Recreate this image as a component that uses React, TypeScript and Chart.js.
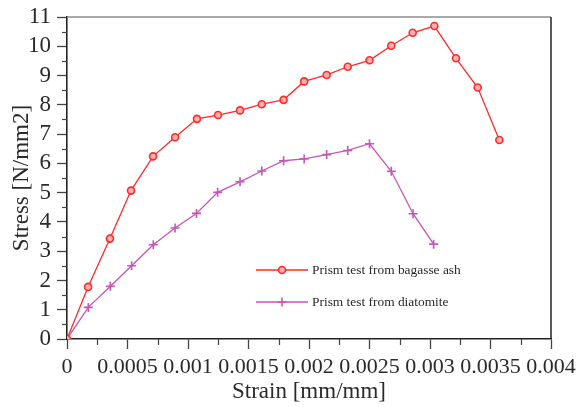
import React, { useEffect, useRef } from 'react';
import { Chart, registerables } from 'chart.js';

Chart.register(...registerables);

// ---- Data ----
const strainBagasse = [0, 0.000174, 0.000355, 0.000529, 0.000711, 0.000893, 0.001074, 0.001248, 0.00143, 0.00161, 0.00179, 0.00196, 0.002146, 0.00232, 0.0025, 0.00268, 0.002857, 0.003036, 0.003215, 0.003394, 0.003573];
const stressBagasse = [0, 1.78, 3.43, 5.07, 6.24, 6.89, 7.52, 7.65, 7.81, 8.02, 8.17, 8.8, 9.02, 9.3, 9.52, 10.02, 10.46, 10.69, 9.59, 8.59, 6.8];

const strainDiatomite = [0, 0.000176, 0.000358, 0.000534, 0.000713, 0.000893, 0.00107, 0.001245, 0.00143, 0.00161, 0.00179, 0.00196, 0.002146, 0.00232, 0.0025, 0.00268, 0.00286, 0.00303];
const stressDiatomite = [0, 1.08, 1.8, 2.5, 3.22, 3.79, 4.29, 5.01, 5.37, 5.74, 6.09, 6.15, 6.3, 6.44, 6.67, 5.73, 4.28, 3.24];

const seriesLabels = ['Prism test from bagasse ash', 'Prism test from diatomite'];
const xTickLabels = ['0', '0.0005', '0.001', '0.0015', '0.002', '0.0025', '0.003', '0.0035', '0.004'];
const yTickLabels = ['0', '1', '2', '3', '4', '5', '6', '7', '8', '9', '10', '11'];

const FONT = "'Liberation Serif', 'Times New Roman', serif";
const TEXT = '#2a2a2a';
const RED = '#ff2a2a';
const PURPLE = '#c455b8';

const framePlugin = {
  id: 'frame',
  afterDraw(chart: any) {
    const { ctx, chartArea: a, scales } = chart;
    ctx.save();
    ctx.lineWidth = 1.5;
    ctx.strokeStyle = '#8c8c8c';
    ctx.beginPath();
    ctx.moveTo(a.left, a.top);
    ctx.lineTo(a.right, a.top);
    ctx.stroke();
    ctx.strokeStyle = '#222';
    ctx.beginPath();
    ctx.moveTo(a.right, a.top);
    ctx.lineTo(a.right, a.bottom);
    ctx.stroke();
    // minor ticks
    ctx.lineWidth = 1.2;
    ctx.strokeStyle = '#444';
    const ys = scales.y;
    for (let i = 0; i < yTickLabels.length - 1; i++) {
      const p = Math.round(ys.getPixelForValue(i + 0.5)) + 0.5;
      ctx.beginPath();
      ctx.moveTo(a.left - 5, p);
      ctx.lineTo(a.left, p);
      ctx.stroke();
    }
    const xs = scales.x;
    for (let i = 0; i < xTickLabels.length - 1; i++) {
      const p = Math.round(xs.getPixelForValue(0.00025 + i * 0.0005)) + 0.5;
      ctx.beginPath();
      ctx.moveTo(p, a.bottom);
      ctx.lineTo(p, a.bottom + 6);
      ctx.stroke();
    }
    ctx.restore();
  },
};

const insideLegendPlugin = {
  id: 'insideLegend',
  afterDraw(chart: any, _args: any, opts: any) {
    const { ctx } = chart;
    ctx.save();
    chart.data.datasets.forEach((ds: any, i: number) => {
      const y = opts.y + i * opts.rowGap;
      const x0 = opts.x;
      const x1 = opts.x + opts.lineLength;
      const cx = (x0 + x1) / 2;
      ctx.strokeStyle = ds.borderColor;
      ctx.lineWidth = ds.borderWidth;
      ctx.beginPath();
      ctx.moveTo(x0, y);
      ctx.lineTo(x1, y);
      ctx.stroke();
      ctx.lineWidth = ds.pointBorderWidth;
      ctx.strokeStyle = ds.pointBorderColor;
      if (ds.pointStyle === 'circle') {
        ctx.fillStyle = ds.pointBackgroundColor;
        ctx.beginPath();
        ctx.arc(cx, y, ds.pointRadius, 0, Math.PI * 2);
        ctx.fill();
        ctx.stroke();
      } else {
        const r = ds.pointRadius;
        ctx.beginPath();
        ctx.moveTo(cx - r, y);
        ctx.lineTo(cx + r, y);
        ctx.moveTo(cx, y - r);
        ctx.lineTo(cx, y + r);
        ctx.stroke();
      }
      ctx.fillStyle = TEXT;
      ctx.font = `${opts.fontSize}px ${FONT}`;
      ctx.textBaseline = 'middle';
      ctx.textAlign = 'left';
      ctx.fillText(ds.label, x1 + 4, y);
    });
    ctx.restore();
  },
};

export default function App() {
  const ref = useRef<HTMLCanvasElement | null>(null);

  useEffect(() => {
    if (!ref.current) return;
    const chart = new Chart(ref.current, {
      type: 'line',
      data: {
        datasets: [
          {
            label: seriesLabels[0],
            data: strainBagasse.map((x, i) => ({ x, y: stressBagasse[i] })),
            borderColor: RED,
            borderWidth: 1.3,
            pointStyle: 'circle',
            pointRadius: 3.5,
            pointBorderWidth: 1.6,
            pointBorderColor: RED,
            pointBackgroundColor: '#ffb0b0',
            fill: false,
            tension: 0,
          },
          {
            label: seriesLabels[1],
            data: strainDiatomite.map((x, i) => ({ x, y: stressDiatomite[i] })),
            borderColor: PURPLE,
            borderWidth: 1.3,
            pointStyle: 'cross',
            pointRadius: 4.5,
            pointBorderWidth: 1.6,
            pointBorderColor: PURPLE,
            pointBackgroundColor: PURPLE,
            fill: false,
            tension: 0,
          },
        ],
      },
      options: {
        responsive: false,
        animation: false,
        devicePixelRatio: 1,
        layout: { padding: { top: 17, right: 26, left: 0, bottom: 0 } },
        plugins: {
          legend: { display: false },
          tooltip: { enabled: false },
          insideLegend: { x: 256, y: 270, rowGap: 32, lineLength: 52, fontSize: 13.4 },
        } as any,
        scales: {
          x: {
            type: 'linear',
            min: 0,
            max: 0.004,
            afterFit: (s: any) => { s.height = 68; s.paddingLeft = 0; s.paddingRight = 0; },
            ticks: {
              stepSize: 0.0005,
              autoSkip: false,
              maxRotation: 0,
              padding: 5,
              color: TEXT,
              font: { family: FONT, size: 22 },
              callback: (_v: any, i: number) => xTickLabels[i],
            },
            grid: { drawOnChartArea: false, tickLength: 10, tickWidth: 1.3, tickColor: '#444' },
            border: { color: '#222', width: 1.6 },
            title: {
              display: true,
              text: 'Strain [mm/mm]',
              color: TEXT,
              font: { family: FONT, size: 23 },
              padding: { top: 0, bottom: 1 },
            },
          },
          y: {
            type: 'linear',
            min: 0,
            max: 11,
            afterFit: (s: any) => { s.width = 67; s.paddingTop = 0; s.paddingBottom = 0; },
            ticks: {
              stepSize: 1,
              autoSkip: false,
              padding: 6,
              color: TEXT,
              font: { family: FONT, size: 23 },
              callback: (_v: any, i: number) => yTickLabels[i],
            },
            grid: { drawOnChartArea: false, tickLength: 10, tickWidth: 1.3, tickColor: '#444' },
            border: { color: '#222', width: 1.6 },
            title: {
              display: true,
              text: 'Stress [N/mm2]',
              color: TEXT,
              font: { family: FONT, size: 23 },
              padding: { top: 8, bottom: 0 },
            },
          },
        },
      },
      plugins: [framePlugin, insideLegendPlugin],
    });
    return () => chart.destroy();
  }, []);

  return (
    <div style={{ position: 'absolute', left: 0, top: 0, width: 577, height: 407, background: '#fff' }}>
      <canvas ref={ref} width={577} height={407} style={{ display: 'block' }} />
    </div>
  );
}
